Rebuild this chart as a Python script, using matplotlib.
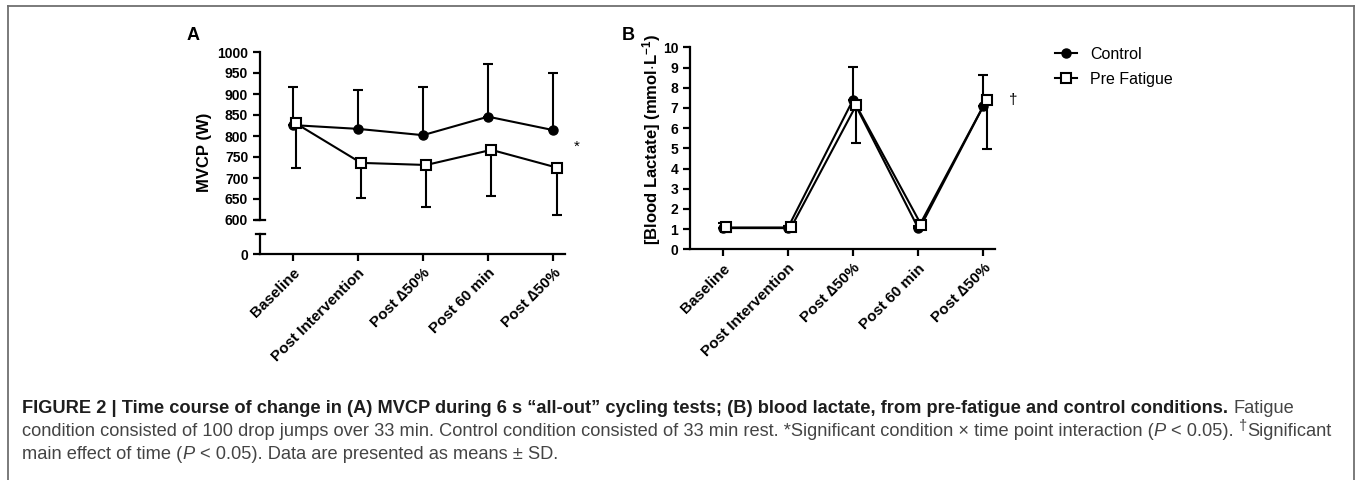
import numpy as np
import matplotlib
matplotlib.use("Agg")
import matplotlib.pyplot as plt
from matplotlib.lines import Line2D

plt.rcParams['font.family'] = ['Liberation Sans', 'DejaVu Sans']
plt.rcParams['mathtext.fontset'] = 'custom'
plt.rcParams['mathtext.rm'] = 'Liberation Sans'
plt.rcParams['mathtext.it'] = 'Liberation Sans:italic'
plt.rcParams['mathtext.bf'] = 'Liberation Sans:bold'

# data
timepoints = ['Baseline', 'Post Intervention', 'Post \u220650%', 'Post 60 min', 'Post \u220650%']

mvcp_control = [826, 817, 802, 846, 814]
mvcp_control_sd = [90, 93, 114, 125, 135]
mvcp_pre = [830, 736, 731, 767, 725]
mvcp_pre_sd = [107, 84, 101, 110, 113]

lac_control = [1.05, 1.05, 7.39, 1.06, 7.09]
lac_control_sd = [0.24, 0.1, 1.62, 0.1, 1.54]
lac_pre = [1.08, 1.08, 7.13, 1.2, 7.39]
lac_pre_sd = [0.2, 0.1, 1.88, 0.15, 2.44]

W, H = 1357, 480
fig = plt.figure(figsize=(W / 100, H / 100), dpi=100)


def fx(px):
    return px / W


def fy(py):
    return 1 - py / H


x = np.arange(len(timepoints))
off = 0.05
lw = 1.5
tick_fs = 10
xtick_fs = 11
label_fs = 12


def style_axis(ax):
    for s in ['top', 'right']:
        ax.spines[s].set_visible(False)
    for s in ['left', 'bottom']:
        ax.spines[s].set_linewidth(1.6)
    ax.tick_params(width=1.6, length=5, labelsize=tick_fs)
    for t in ax.get_yticklabels():
        t.set_fontweight('bold')
    ax.set_xlim(-0.5, 4.18)


def draw_series(ax, ctrl, ctrl_sd, pre, pre_sd):
    z = np.zeros(len(ctrl))
    c = ax.errorbar(x, ctrl, yerr=[z, ctrl_sd], color='black', lw=lw,
                    marker='o', ms=6.5, capsize=3.5, capthick=lw, elinewidth=lw, zorder=3)
    p = ax.errorbar(x + off, pre, yerr=[pre_sd, z], color='black', lw=lw,
                    marker='s', ms=6.5, mfc='white', mec='black', mew=1.5,
                    capsize=3.5, capthick=lw, elinewidth=lw, zorder=4)
    return c, p


def set_xlabels(ax):
    ax.set_xticks(x)
    ax.set_xticklabels(timepoints, rotation=45, ha='right', va='top',
                       rotation_mode='anchor', fontsize=xtick_fs, fontweight='bold')


# ---- panel A, broken y axis ----
ax_a1 = fig.add_axes([fx(260), fy(220), fx(565 - 260), (220 - 52) / H])
ax_a0 = fig.add_axes([fx(260), fy(254), fx(565 - 260), (254 - 234) / H])

draw_series(ax_a1, mvcp_control, mvcp_control_sd, mvcp_pre, mvcp_pre_sd)
ax_a1.set_ylim(600, 1000)
ax_a1.set_yticks(np.arange(600, 1001, 50))
ax_a1.spines['bottom'].set_visible(False)
ax_a1.tick_params(axis='x', bottom=False, labelbottom=False)
style_axis(ax_a1)

ax_a0.set_ylim(0, 50)
ax_a0.set_yticks([0])
style_axis(ax_a0)
set_xlabels(ax_a0)

# break marks
for ax, yy in [(ax_a1, 0), (ax_a0, 1)]:
    ax.add_line(Line2D([-0.014, 0.017], [yy, yy], transform=ax.transAxes,
                       color='black', lw=1.6, clip_on=False))

fig.text(fx(205), fy(152), 'MVCP (W)', rotation=90, ha='center', va='center',
         fontsize=label_fs, fontweight='bold')
fig.text(fx(187), fy(40), 'A', fontsize=13, fontweight='bold', va='baseline')
fig.text(fx(577), fy(147), '*', fontsize=11, ha='center', va='center')

# ---- panel B ----
ax_b = fig.add_axes([fx(690), fy(249.3), fx(995 - 690), (249.3 - 47.3) / H])
hc, hp = draw_series(ax_b, lac_control, lac_control_sd, lac_pre, lac_pre_sd)
ax_b.set_ylim(0, 10)
ax_b.set_yticks(np.arange(0, 11, 1))
style_axis(ax_b)
set_xlabels(ax_b)
fig.text(fx(652), fy(140), r'[Blood Lactate] (mmol$\cdot$L$^{\mathbf{-1}}$)', rotation=90,
         ha='center', va='center', fontsize=label_fs, fontweight='bold')
fig.text(fx(622), fy(40), 'B', fontsize=13, fontweight='bold', va='baseline')
fig.text(fx(1013), fy(100), '\u2020', fontsize=11, ha='center', va='center')

ax_b.legend([hc[0], hp[0]], ['Control', 'Pre Fatigue'], loc='upper left',
            bbox_to_anchor=(fx(1055), fy(47)), bbox_transform=fig.transFigure,
            frameon=False, fontsize=11.5, handlelength=1.4, handletextpad=0.8,
            borderaxespad=0, borderpad=0, labelspacing=0.6)

# ---- frame ----
fc = '#707070'
fig.add_artist(Line2D([fx(8), fx(8)], [fy(6), 0], transform=fig.transFigure, color=fc, lw=1.3))
fig.add_artist(Line2D([fx(1354), fx(1354)], [fy(6), 0], transform=fig.transFigure, color=fc, lw=1.3))
fig.add_artist(Line2D([fx(8), fx(1354)], [fy(6), fy(6)], transform=fig.transFigure, color=fc, lw=1.3))

# ---- caption ----
renderer = fig.canvas.get_renderer()
bold_c = '#1e1e1e'
reg_c = '#444444'

line1_bold = ('FIGURE 2 | Time course of change in (A) MVCP during 6 s \u201call-out\u201d cycling tests; '
              '(B) blood lactate, from pre-fatigue and control conditions.')


def text_width(s, fs, **kw):
    t = fig.text(0, 0, s, fontsize=fs, **kw)
    w = t.get_window_extent(renderer).width
    t.remove()
    return w


# fit caption size so the first line spans the same width as in the figure
w10 = text_width(line1_bold + ' Fatigue', 10, fontweight='bold')
cap_fs = 10 * 1275 / w10
space_w = text_width('a a', cap_fs) - text_width('aa', cap_fs)


def caption_line(ybase, pieces):
    xpx = 22
    for s, kind, gap in pieces:
        kw = dict(fontsize=cap_fs, color=reg_c)
        dy = 0
        if kind == 'b':
            kw.update(fontweight='bold', color=bold_c)
        elif kind == 'i':
            kw.update(style='italic')
        elif kind == 'sup':
            kw.update(fontsize=cap_fs * 0.8)
            dy = -6
        t = fig.text(fx(xpx), fy(ybase + dy), s, va='baseline', ha='left', **kw)
        xpx += t.get_window_extent(renderer).width + gap * space_w


caption_line(413, [
    (line1_bold, 'b', 1),
    ('Fatigue', 'r', 0),
])
caption_line(436, [
    ('condition consisted of 100 drop jumps over 33 min. Control condition consisted of 33 min rest. '
     '*Significant condition \u00d7 time point interaction (', 'r', 0),
    ('P', 'i', 1),
    ('< 0.05).', 'r', 1),
    ('\u2020', 'sup', 0),
    ('Significant', 'r', 0),
])
caption_line(459, [
    ('main effect of time (', 'r', 0),
    ('P', 'i', 1),
    ('< 0.05). Data are presented as means \u00b1 SD.', 'r', 0),
])

fig.savefig('out.png', dpi=100)
